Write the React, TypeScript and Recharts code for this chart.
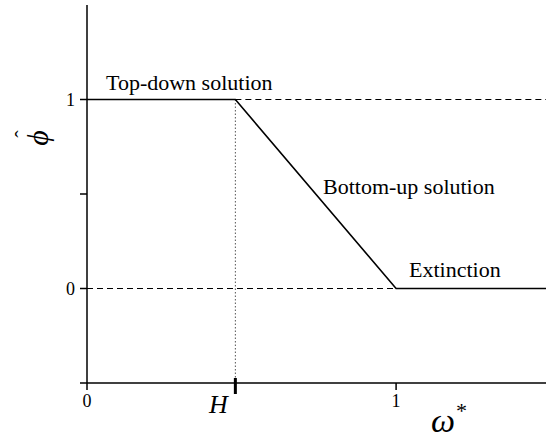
import React from "react";
import { LineChart, Line, XAxis, YAxis } from "recharts";

const H = 0.48;
const X_MAX = 1.485;

const solutionX = [0, H, 1, X_MAX];
const solutionY = [1, 1, 0, 0];

const dashTopX = [H, X_MAX];
const dashTopY = [1, 1];
const dashZeroX = [0, 1];
const dashZeroY = [0, 0];
const dotVX = [H, H];
const dotVY = [1, -0.5];

const xTicks = [0, H, 1];
const yTicks = [-0.5, 0, 0.5, 1];
const yTickLabels: Record<string, string> = { "0": "0", "1": "1" };

const zip = (xs: number[], ys: number[]) => xs.map((x, i) => ({ x, y: ys[i] }));

const solution = zip(solutionX, solutionY);
const dashTop = zip(dashTopX, dashTopY);
const dashZero = zip(dashZeroX, dashZeroY);
const dotV = zip(dotVX, dotVY);

const FONT = "'Liberation Serif', 'Times New Roman', serif";
const serif: React.CSSProperties = { fontFamily: FONT };
const serifItalic: React.CSSProperties = { fontFamily: FONT, fontStyle: "italic" };

const XTick = (props: any) => {
  const { x, y, payload } = props;
  const v = payload.value;
  if (Math.abs(v - H) < 1e-9) {
    return (
      <g>
        <rect x={x - 1.5} y={y - 5} width={3} height={16} fill="#000" />
        <text x={x - 17} y={y + 30} textAnchor="middle" fontSize={26} style={serifItalic} fill="#000">
          H
        </text>
      </g>
    );
  }
  return (
    <g>
      <line x1={x} y1={y} x2={x} y2={y + 7} stroke="#000" strokeWidth={1.5} />
      <text x={x} y={y + 11} dy="0.71em" textAnchor="middle" fontSize={18} style={serif} fill="#000">
        {String(v)}
      </text>
    </g>
  );
};

export default function App() {
  return (
    <div style={{ position: "absolute", left: 0, top: 0, fontFamily: FONT }}>
      <LineChart width={546} height={440} margin={{ top: 5, right: 0, bottom: 0, left: 0 }} style={serif}>
        <XAxis
          type="number"
          dataKey="x"
          domain={[0, X_MAX]}
          allowDataOverflow
          ticks={xTicks}
          tick={<XTick />}
          tickLine={false}
          tickSize={0}
          tickMargin={0}
          height={57}
          axisLine={{ stroke: "#000", strokeWidth: 1.5 }}
          interval={0}
        />
        <XAxis
          xAxisId="top"
          orientation="top"
          type="number"
          dataKey="x"
          domain={[0, X_MAX]}
          height={0}
          tick={false}
          tickLine={false}
          axisLine={{ stroke: "#000", strokeWidth: 1.5 }}
        />
        <YAxis
          type="number"
          dataKey="y"
          domain={[-0.5, 1.5]}
          ticks={yTicks}
          width={87}
          tickSize={7}
          tickMargin={5}
          interval={0}
          tickFormatter={(v: number) => yTickLabels[String(v)] ?? ""}
          tick={{ fontSize: 18, fill: "#000", style: serif }}
          tickLine={{ stroke: "#000", strokeWidth: 1.5 }}
          axisLine={{ stroke: "#000", strokeWidth: 1.5 }}
        />
        <Line data={dotV} dataKey="y" stroke="#555" strokeWidth={1} strokeDasharray="1.5 2" dot={false} activeDot={false} isAnimationActive={false} />
        <Line data={dashTop} dataKey="y" stroke="#000" strokeWidth={1.2} strokeDasharray="6 4" dot={false} activeDot={false} isAnimationActive={false} />
        <Line data={dashZero} dataKey="y" stroke="#000" strokeWidth={1.2} strokeDasharray="6 4" dot={false} activeDot={false} isAnimationActive={false} />
        <Line data={solution} dataKey="y" stroke="#000" strokeWidth={1.6} dot={false} activeDot={false} isAnimationActive={false} />
        <text x={106} y={90} fontSize={22} style={serif} fill="#000">Top-down solution</text>
        <text x={323} y={194} fontSize={22} style={serif} fill="#000">Bottom-up solution</text>
        <text x={409} y={277} fontSize={22} style={serif} fill="#000">Extinction</text>
        <text x={431} y={432} fontSize={34} style={serifItalic} fill="#000">
          ω<tspan fontSize={22} style={serif} dy={-14}>*</tspan>
        </text>
        <text x={48} y={138} fontSize={30} style={serifItalic} fill="#000" textAnchor="middle" transform="rotate(-90, 48, 138)">
          ϕ
        </text>
        <text x={30} y={134} fontSize={22} style={serif} fill="#000" textAnchor="middle" transform="rotate(-90, 30, 134)">
          ˆ
        </text>
      </LineChart>
    </div>
  );
}
